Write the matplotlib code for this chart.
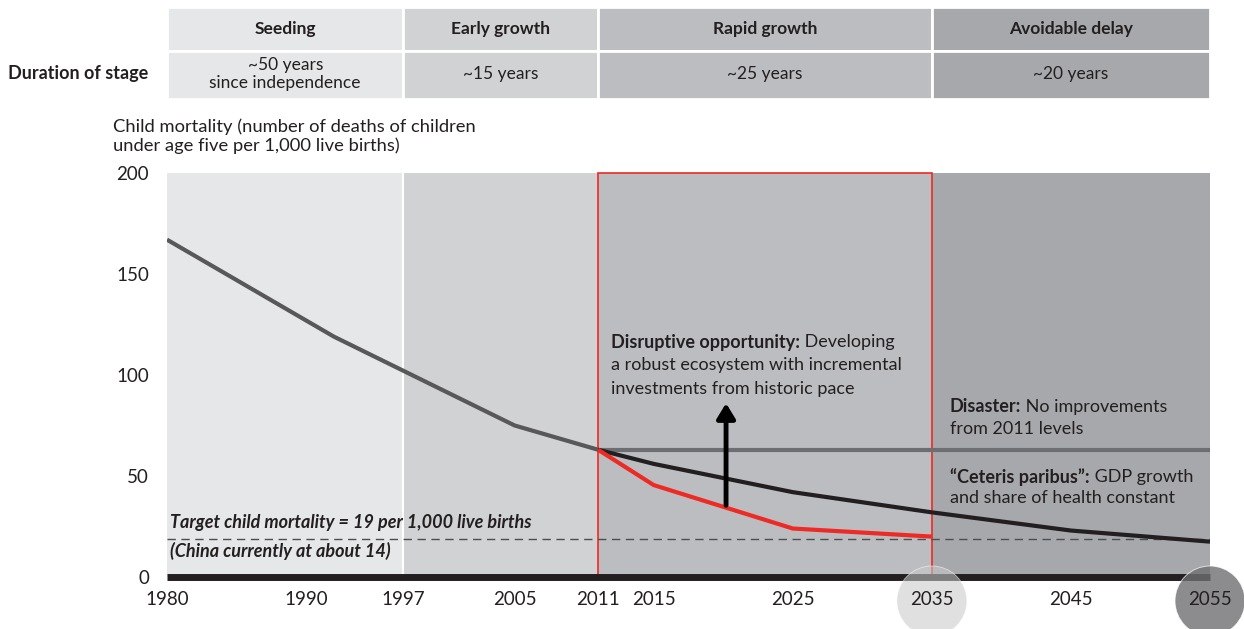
import matplotlib
matplotlib.use("Agg")
import matplotlib.pyplot as plt
from matplotlib.patches import Rectangle, Ellipse

plt.rcParams["font.family"] = ["Lato", "DejaVu Sans"]

INK = "#231f20"
RED = "#ee2a24"

# stages (top table and background bands)
stage_names = ["Seeding", "Early growth", "Rapid growth", "Avoidable delay"]
stage_durations = ["~50 years\nsince independence", "~15 years", "~25 years", "~20 years"]
stage_start = [1980, 1997, 2011, 2035]
stage_end = [1997, 2011, 2035, 2055]
stage_colors = ["#e6e7e8", "#d1d2d4", "#bcbdc0", "#a7a8ab"]

# child mortality series
hist_years = [1980, 1992, 2005, 2011]
hist_values = [167, 119, 75, 63]

disaster_years = [2011, 2055]
disaster_values = [63, 63]

ceteris_years = [2011, 2015, 2025, 2035, 2045, 2055]
ceteris_values = [63, 56, 42, 32, 23, 17.5]

disrupt_years = [2011, 2015, 2025, 2035]
disrupt_values = [63, 45.5, 24, 20]

target_value = 19
arrow_year = 2020.2
arrow_from, arrow_to = 35.5, 86

x_ticks = [1980, 1990, 1997, 2005, 2011, 2015, 2025, 2035, 2045, 2055]
y_ticks = [0, 50, 100, 150, 200]
circled_years = [2035, 2055]
circle_colors = [("#c8c9cb", 0.56), ("#6f7072", 0.8)]

W, H = 1244, 629


def px_box(left, top, right, bottom):
    return [left / W, 1 - bottom / H, (right - left) / W, (bottom - top) / H]


fig = plt.figure(figsize=(W / 100, H / 100), dpi=100)
ax = fig.add_axes(px_box(167, 173, 1210, 577))

for s, e, c in zip(stage_start, stage_end, stage_colors):
    ax.axvspan(s, e, color=c, lw=0, zorder=0)
ax.axvline(1997, color="white", lw=1.5, zorder=0.5)

ax.add_patch(Rectangle((2011, 0), 2035 - 2011, 200, fill=False, edgecolor=RED,
                       lw=1.2, zorder=1.5, clip_on=False))

ax.axhline(target_value, color="#4d4d4f", lw=1, dashes=(6, 4), zorder=2.5)
ax.plot(disaster_years, disaster_values, color="#6d6e71", lw=3, solid_capstyle="butt", zorder=2.8)
ax.plot(hist_years, hist_values, color="#58585a", lw=3, solid_capstyle="butt", zorder=3)
ax.plot(ceteris_years, ceteris_values, color=INK, lw=3, solid_capstyle="butt", zorder=3)
ax.plot(disrupt_years, disrupt_values, color=RED, lw=3, solid_capstyle="butt", zorder=3.2)

ax.annotate("", xy=(arrow_year, arrow_to), xytext=(arrow_year, arrow_from),
            arrowprops=dict(arrowstyle="-|>,head_length=0.9,head_width=0.55",
                            color="black", lw=3.5, shrinkA=0, shrinkB=0), zorder=3.5)

# thick base line
ax.plot([1980, 2055], [0, 0], color=INK, lw=5, solid_capstyle="butt", clip_on=False, zorder=3.6)

for yr, (c, a) in zip(circled_years, circle_colors):
    xf = (167 + (yr - 1980) / 75 * (1210 - 167)) / W
    ax.add_patch(Ellipse((xf, 1 - 601 / H), 70 / W, 70 / H, transform=fig.transFigure,
                         facecolor=c, alpha=a, edgecolor="white", lw=0.6,
                         clip_on=False, zorder=4))

ax.set_xlim(1980, 2055)
ax.set_ylim(0, 200)
ax.set_xticks(x_ticks)
ax.set_yticks(y_ticks)
for sp in ax.spines.values():
    sp.set_visible(False)
ax.tick_params(length=0, labelsize=13.5, colors=INK)
ax.tick_params(axis="x", pad=10)
ax.tick_params(axis="y", pad=13)
ax.xaxis.set_zorder(5)

fig.text(113 / W, 1 - 136 / H,
         "Child mortality (number of deaths of children\nunder age five per 1,000 live births)",
         ha="left", va="center", fontsize=13.2, color=INK, linespacing=1.2)

txt = dict(fontsize=13, color=INK, va="center", ha="left")


def lead_text(x, y, bold, rest):
    t = ax.text(x, y, bold, fontweight="bold", zorder=6, **txt)
    ax.annotate(" " + rest, xy=(1, 0.5), xycoords=t, zorder=6, **txt)


lead_text(2011.9, 116.3, "Disruptive opportunity:", "Developing")
ax.text(2011.9, 104.9, "a robust ecosystem with incremental", **txt)
ax.text(2011.9, 93.1, "investments from historic pace", **txt)

lead_text(2036.3, 84.2, "Disaster:", "No improvements")
ax.text(2036.3, 73.3, "from 2011 levels", **txt)

lead_text(2036.3, 49.5, "\u201cCeteris paribus\u201d:", "GDP growth")
ax.text(2036.3, 39.1, "and share of health constant", **txt)

ax.text(1980.2, 27.2, "Target child mortality = 19 per 1,000 live births",
        fontweight="bold", fontstyle="italic", **txt)
ax.text(1980.2, 12.9, "(China currently at about 14)",
        fontweight="bold", fontstyle="italic", **txt)

# stage table on top
tax = fig.add_axes(px_box(167, 7, 1210, 99))
tax.set_xlim(1980, 2055)
tax.set_ylim(99, 7)
tax.axis("off")
for name, dur, s, e, c in zip(stage_names, stage_durations, stage_start, stage_end, stage_colors):
    tax.add_patch(Rectangle((s, 7), e - s, 44, facecolor=c, edgecolor="white", lw=2))
    tax.add_patch(Rectangle((s, 51), e - s, 48, facecolor=c, edgecolor="white", lw=2))
    mid = (s + e) / 2
    tax.text(mid, 29, name, ha="center", va="center", fontsize=12.5, fontweight="bold", color=INK)
    tax.text(mid, 74, dur, ha="center", va="center", fontsize=12.5, color=INK, linespacing=1.2)

fig.text(148 / W, 1 - 73 / H, "Duration of stage", ha="right", va="center",
         fontsize=13, fontweight="bold", color=INK)

fig.savefig("out.png", dpi=100)
